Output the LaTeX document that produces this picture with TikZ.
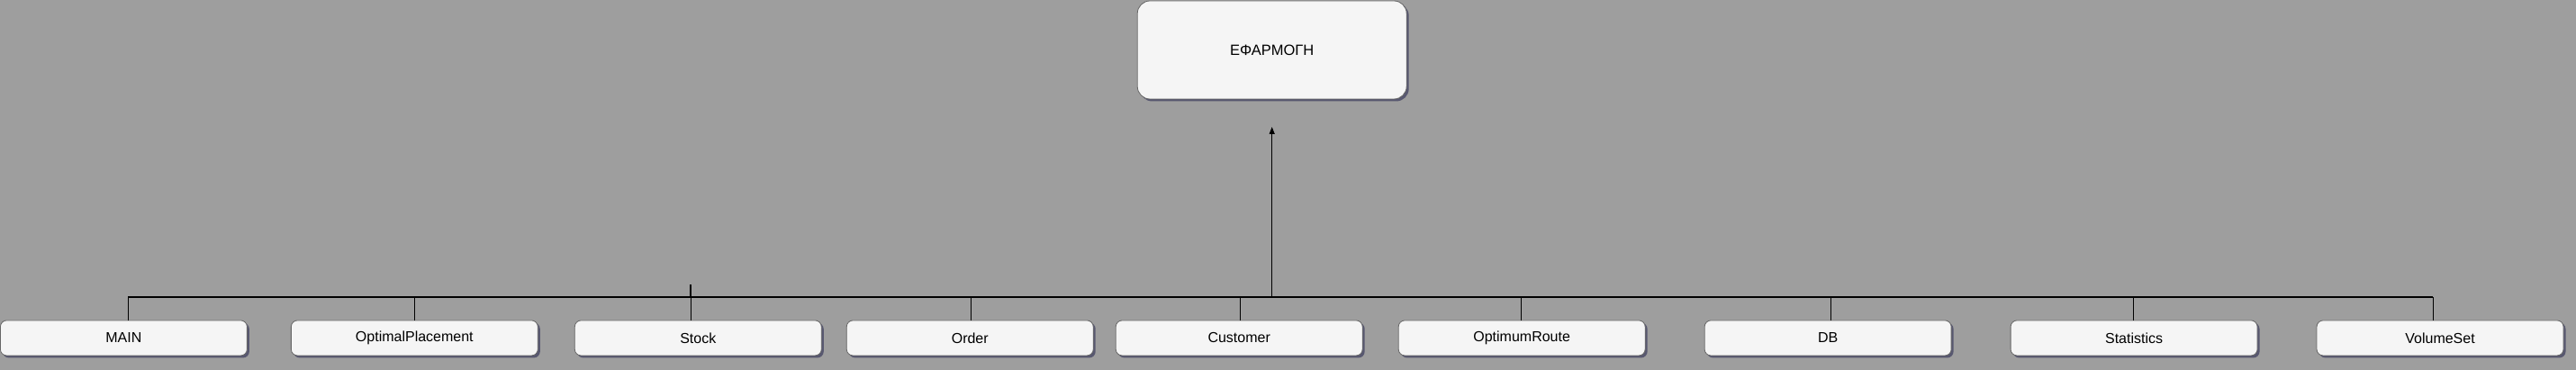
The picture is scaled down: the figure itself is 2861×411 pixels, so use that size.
\documentclass[tikz,border=0pt]{standalone}
\usepackage{fontspec}
\setmainfont{Liberation Sans}
\usepackage{tikz}
\usetikzlibrary{calc,shadows,arrows.meta}

\definecolor{bgc}{RGB}{158,158,158}
\definecolor{boxc}{RGB}{245,245,245}
\definecolor{edgec}{RGB}{102,102,102}
\definecolor{shadowc}{RGB}{88,88,112}

\begin{document}
\begin{tikzpicture}[x=1pt, y=-1pt]

        % Styles for the class boxes and the connectors
        \tikzset{
            classbox/.style={draw=edgec, fill=boxc, line width=0.8pt,
                rounded corners=7pt, minimum width=274pt, minimum height=39pt,
                inner sep=0pt, font=\fontsize{16}{18}\selectfont,
                drop shadow={shadow xshift=2.5pt, shadow yshift=-2.5pt,
                    fill=shadowc, opacity=1}},
            appbox/.style={classbox, rounded corners=14pt,
                minimum width=299pt, minimum height=109pt,
                font=\fontsize{16.5}{18}\selectfont},
            wire/.style={black, line width=1.1pt},
            uparrow/.style={wire, -{Triangle[length=8pt, width=6pt]}}
        }

        % Background of the whole page
        \fill[bgc] (0, 0) rectangle (2861, 411);

        % The application on top
        \node[appbox] (app) at (1412.5, 55.5) {ΕΦΑΡΜΟΓΗ};

        % Row of classes at the bottom
        \begin{scope}
            \node[classbox] (MAIN) at (137, 375.5) {MAIN};
            \node[classbox] (OptimalPlacement) at (460, 375.5) {OptimalPlacement};
            \node[classbox] (Stock) at (775, 375.5) {Stock};
            \node[classbox] (Order) at (1077, 375.5) {Order};
            \node[classbox] (Customer) at (1376, 375.5) {Customer};
            \node[classbox] (OptimumRoute) at (1690, 375.5) {OptimumRoute};
            \node[classbox] (DB) at (2030, 375.5) {DB};
            \node[classbox] (Statistics) at (2370, 375.5) {Statistics};
            \node[classbox] (VolumeSet) at (2710, 375.5) {VolumeSet};
        \end{scope}

        % Height of the common line and the points the arrow uses
        \coordinate (bus) at (0, 330);
        \coordinate (join) at (1412.5, 330);
        \coordinate (tip) at (1412.5, 141);
        \coordinate (tick) at (767, 316);

        % Common line and the stubs down to each class
        % (each pair is class / shift of its stub from the centre)
        \begin{scope}[wire]
            \draw ($(MAIN.north |- bus)+(5,0)$) -- ($(VolumeSet.north |- bus)+(-8,0)$);
            \foreach \cls/\dx in {MAIN/5, OptimalPlacement/0, Stock/-8, Order/1,
                                  Customer/1, OptimumRoute/-1, DB/3,
                                  Statistics/-1, VolumeSet/-8}
                \draw ($(\cls.north |- bus)+(\dx,0)$) -- ($(\cls.north)+(\dx,0)$);
            \draw[line width=2pt] (tick) -- (tick |- bus);
        \end{scope}

        % Arrow up towards the application
        \draw[uparrow] (join) -- (tip);

\end{tikzpicture}
\end{document}
